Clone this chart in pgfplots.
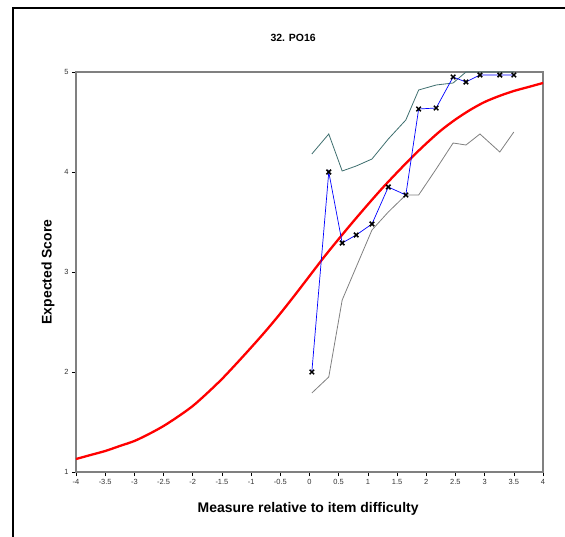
\documentclass[border=0pt]{standalone}
\usepackage{pgfplots}
\pgfplotsset{compat=1.18}
\usepackage{fontspec}
\setmainfont{Liberation Sans}
\definecolor{upperc}{HTML}{3F6F6F}
\definecolor{lowerc}{HTML}{808080}
\begin{document}
\begin{tikzpicture}
\path[use as bounding box] (-76bp,-65bp) rectangle (489bp,472bp);
\draw[line width=2bp] (-63bp,-65bp) -- (-63bp,464bp) -- (489bp,464bp);
\begin{axis}[
  at={(0,0)}, anchor=south west,
  width=467bp, height=400bp, scale only axis,
  xmin=-4, xmax=4, ymin=1, ymax=5,
  xtick={-4,-3.5,...,4}, ytick={1,2,3,4,5},
  axis line style={draw=lowerc, line width=1.2bp},
  tick align=outside, major tick length=4bp,
  tick style={black, line width=0.6bp},
  xtick pos=bottom, ytick pos=left,
  /pgf/number format/assume math mode=true,
  /pgf/number format/fixed,
  ticklabel style={font=\fontsize{7.5}{8}\selectfont, text=black!80},
  title={32. PO16},
  title style={font=\bfseries\fontsize{10.5}{12}\selectfont, at={(axis description cs:0.465,1.07)}, anchor=center},
  xlabel={Measure relative to item difficulty},
  xlabel style={font=\bfseries\fontsize{14}{16}\selectfont, at={(axis description cs:0.497,-0.092)}, anchor=center},
  ylabel={Expected Score},
  ylabel style={font=\bfseries\fontsize{14}{16}\selectfont, at={(axis description cs:-0.06,0.5)}, anchor=center, rotate=0},
  clip=false,
]
% red expected score curve
\addplot[red, line width=2.3bp, smooth, no markers] coordinates {
(-4,1.13) (-3.75,1.17) (-3.5,1.21) (-3.25,1.26) (-3,1.31) (-2.75,1.38) (-2.5,1.46) (-2.25,1.555)
(-2,1.66) (-1.75,1.79) (-1.5,1.93) (-1.25,2.085) (-1,2.245) (-0.75,2.41) (-0.5,2.585) (-0.25,2.77)
(0,2.96) (0.25,3.15) (0.5,3.33) (0.75,3.505) (1,3.675) (1.25,3.84) (1.5,3.995) (1.75,4.145)
(2,4.285) (2.25,4.415) (2.5,4.525) (2.75,4.62) (3,4.70) (3.25,4.76) (3.5,4.81) (3.75,4.85) (4,4.89)};
% upper band
\addplot[upperc, line width=0.8bp, no markers] coordinates {
(0.04,4.18) (0.33,4.38) (0.56,4.01) (0.8,4.06) (1.07,4.13) (1.35,4.33) (1.65,4.52) (1.87,4.82)
(2.17,4.87) (2.46,4.89) (2.68,5.0) (2.92,5.0) (3.26,5.0) (3.5,5.0)};
% lower band
\addplot[lowerc, line width=0.8bp, no markers] coordinates {
(0.04,1.79) (0.33,1.95) (0.56,2.72) (0.8,3.05) (1.07,3.42) (1.35,3.6) (1.65,3.77) (1.87,3.77)
(2.17,4.03) (2.46,4.29) (2.68,4.27) (2.92,4.38) (3.26,4.20) (3.5,4.40)};
% observed
\addplot[blue, line width=0.7bp, mark=x, mark size=3.2bp, mark options={black, line width=1.5bp}] coordinates {
(0.04,2.0) (0.33,4.0) (0.56,3.29) (0.8,3.37) (1.07,3.48) (1.35,3.85) (1.65,3.77) (1.87,4.63)
(2.17,4.64) (2.46,4.95) (2.68,4.90) (2.92,4.97) (3.26,4.97) (3.5,4.97)};
\end{axis}
\end{tikzpicture}
\end{document}
